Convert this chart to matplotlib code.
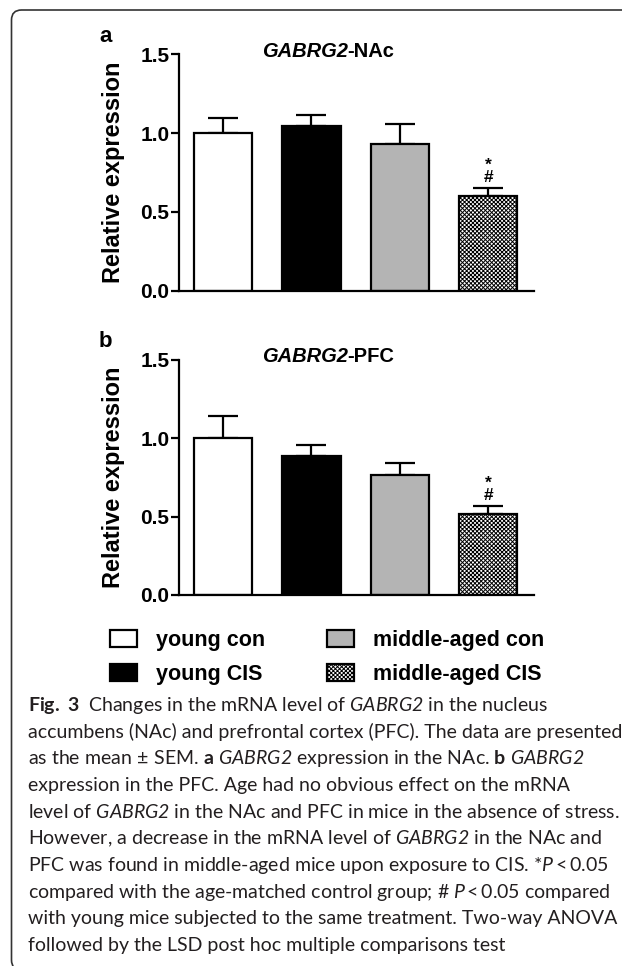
import numpy as np
import matplotlib
matplotlib.use('Agg')
import matplotlib.pyplot as plt
from matplotlib.patches import Patch, FancyBboxPatch
from matplotlib.transforms import IdentityTransform

# data
groups = ['young con', 'young CIS', 'middle-aged con', 'middle-aged CIS']
nac_mean = [1.00, 1.045, 0.93, 0.60]
nac_sem = [0.095, 0.07, 0.13, 0.05]
pfc_mean = [1.00, 0.89, 0.765, 0.52]
pfc_sem = [0.14, 0.065, 0.075, 0.048]
yticks = [0.0, 0.5, 1.0, 1.5]

# \mathsf is mapped to the italic face (\mathit would keep digits upright)
caption_lines = [
    r'$\mathbf{Fig.\ 3}$  Changes in the mRNA level of $\mathsf{GABRG2}$ in the nucleus',
    'accumbens (NAc) and prefrontal cortex (PFC). The data are presented',
    r'as the mean$\,\pm\,$SEM. $\mathbf{a}$ $\mathsf{GABRG2}$ expression in the NAc. $\mathbf{b}$ $\mathsf{GABRG2}$',
    'expression in the PFC. Age had no obvious effect on the mRNA',
    r'level of $\mathsf{GABRG2}$ in the NAc and PFC in mice in the absence of stress.',
    r'However, a decrease in the mRNA level of $\mathsf{GABRG2}$ in the NAc and',
    r'PFC was found in middle-aged mice upon exposure to CIS. *$\mathsf{P}\,$<$\,$0.05',
    r'compared with the age-matched control group; # $\mathsf{P}\,$<$\,$0.05 compared',
    'with young mice subjected to the same treatment. Two-way ANOVA',
    'followed by the LSD post hoc multiple comparisons test',
]

colors = ['white', 'black', '#b4b4b4', 'white']
hatches = [None, None, None, 'xxxxxxxx']

plt.rcParams['font.family'] = ['Liberation Sans', 'DejaVu Sans']
plt.rcParams['mathtext.fontset'] = 'custom'
plt.rcParams['mathtext.rm'] = 'Lato'
plt.rcParams['mathtext.it'] = 'Lato:italic'
plt.rcParams['mathtext.sf'] = 'Lato:italic'
plt.rcParams['mathtext.bf'] = 'Lato:bold'
plt.rcParams['hatch.linewidth'] = 0.7

W, H = 622, 966
fig = plt.figure(figsize=(W / 100, H / 100), dpi=100)


def px_axes(left, top, right, bottom):
    return fig.add_axes([left / W, 1 - bottom / H, (right - left) / W, (bottom - top) / H])


def draw_panel(ax, means, sems, region, letter):
    x = np.arange(len(means))
    for i in range(len(means)):
        ax.bar(x[i], means[i], width=0.66, color=colors[i], edgecolor='black',
               linewidth=1.6, hatch=hatches[i], zorder=2)
    ax.errorbar(x, means, yerr=[np.zeros(len(sems)), sems], fmt='none', ecolor='black',
                elinewidth=1.6, capsize=11, capthick=1.6, zorder=1)
    ax.set_xlim(-0.5, 3.52)
    ax.set_ylim(0, 1.5)
    ax.set_yticks(yticks)
    ax.set_yticklabels(['%.1f' % v for v in yticks], fontsize=15, fontweight='bold')
    ax.set_xticks([])
    for s in ['top', 'right']:
        ax.spines[s].set_visible(False)
    for s in ['left', 'bottom']:
        ax.spines[s].set_linewidth(1.6)
    ax.tick_params(axis='y', length=6, width=1.6, pad=1)
    ax.set_ylabel('Relative expression', fontsize=17, fontweight='bold', labelpad=11)
    # significance marks on last bar
    top = means[3] + sems[3]
    ax.text(3, top + 0.02, '*\n#', ha='center', va='bottom', fontsize=12.5,
            fontweight='bold', linespacing=0.78)
    # title: italic gene + region
    ax.text(1.41, 1.52, 'GABRG2', ha='right', va='center', fontsize=14.5,
            fontweight='bold', fontstyle='italic')
    ax.text(1.41, 1.52, '-' + region, ha='left', va='center', fontsize=14.5, fontweight='bold')
    ax.text(-0.208, 1.054, letter, transform=ax.transAxes, ha='center', va='baseline',
            fontsize=16, fontweight='bold')


ax_a = px_axes(179, 54.3, 534, 290.7)
draw_panel(ax_a, nac_mean, nac_sem, 'NAc', 'a')
ax_b = px_axes(179, 360, 534, 595)
draw_panel(ax_b, pfc_mean, pfc_sem, 'PFC', 'b')

handles = [Patch(facecolor=colors[i], edgecolor='black', linewidth=1.6, hatch=hatches[i])
           for i in range(len(groups))]
fig.legend(handles, groups, loc='upper left', bbox_to_anchor=(110 / W, 1 - 630 / H),
           ncol=2, frameon=False, borderpad=0, borderaxespad=0,
           handlelength=1.25, handleheight=0.78, handletextpad=0.9,
           columnspacing=2.85, labelspacing=0.6,
           prop={'family': 'Liberation Sans', 'weight': 'bold', 'size': 15.5})

for i, line in enumerate(caption_lines):
    fig.text(28 / W, 1 - (711 + 26.67 * i) / H, line, ha='left', va='baseline',
             fontsize=14, family='Lato', color='#231f20')

frame = FancyBboxPatch((11.5, -4), 700, 960, boxstyle='round,pad=0,rounding_size=10',
                       transform=IdentityTransform(), facecolor='none',
                       edgecolor='#333333', linewidth=1.2)
fig.add_artist(frame)

fig.savefig('out.png', dpi=100)
